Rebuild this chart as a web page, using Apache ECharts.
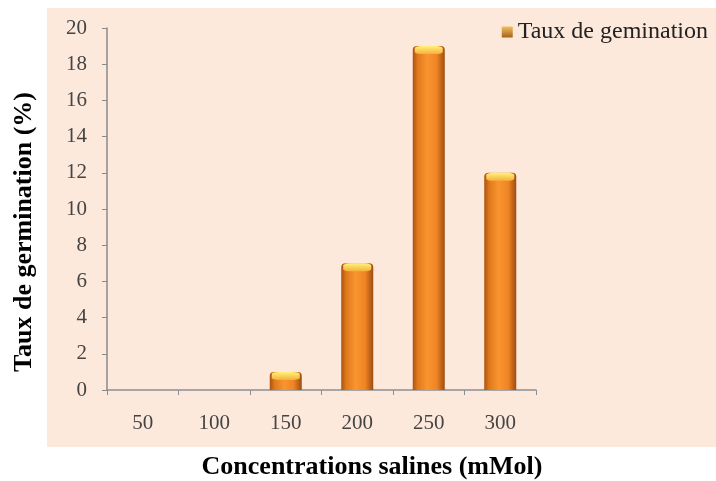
<!DOCTYPE html>
<html><head><meta charset="utf-8">
<script src="https://cdn.jsdelivr.net/npm/echarts@6/dist/echarts.min.js"></script>
<style>html,body{margin:0;padding:0;background:#fff}#c{width:716px;height:481px}</style>
</head><body><div id="c"></div>
<script>
const categories = ['50','100','150','200','250','300'];
const tauxGermination = [0, 0, 1, 7, 19, 12];
const seriesName = 'Taux de gemination';
const xTitle = 'Concentrations salines (mMol)';
const yTitle = 'Taux de germination (%)';

const chart = echarts.init(document.getElementById('c'), null, {renderer:'canvas'});
const serif = '"Liberation Serif", "DejaVu Serif", serif';
const barGrad = new echarts.graphic.LinearGradient(0,0,1,0,[
  {offset:0,color:'#a9520f'},
  {offset:0.15,color:'#e0781c'},
  {offset:0.45,color:'#f99530'},
  {offset:0.75,color:'#ef8424'},
  {offset:1,color:'#9e4c10'}
]);
chart.setOption({
  animation:false,
  backgroundColor:'#ffffff',
  graphic:[
    {type:'rect',z:-10,shape:{x:47,y:8,width:669,height:439},style:{fill:'#fde9dc'},silent:true},
    {type:'text',x:372,y:467,style:{text:xTitle,font:'bold 26px '+serif,fill:'#000',textAlign:'center',textVerticalAlign:'middle'}},
    {type:'text',x:24,y:232,rotation:Math.PI/2,style:{text:yTitle,font:'bold 26px '+serif,fill:'#000',textAlign:'center',textVerticalAlign:'middle'}}
  ],
  legend:{
    right:3, top:15, itemWidth:11, itemHeight:11, icon:'rect', itemGap:6,
    textStyle:{fontFamily:serif,fontSize:24,color:'#222'},
    data:[{name:seriesName,itemStyle:{color:new echarts.graphic.LinearGradient(0,0,0,1,[{offset:0,color:'#f0c060'},{offset:1,color:'#a8601a'}])}}]
  },
  grid:{left:107,right:180,top:28,bottom:91,containLabel:false},
  xAxis:{
    type:'category', data:categories,
    axisLine:{lineStyle:{color:'#8a8f94',width:1.5}},
    axisTick:{show:true,length:5,lineStyle:{color:'#8a8f94'}},
    axisLabel:{fontFamily:serif,fontSize:21,color:'#444',margin:23}
  },
  yAxis:{
    type:'value', min:0, max:20, interval:2,
    axisLine:{show:true,lineStyle:{color:'#8a8a8a',width:1.5}},
    axisTick:{show:true,length:5,lineStyle:{color:'#8a8a8a'}},
    splitLine:{show:false},
    axisLabel:{fontFamily:serif,fontSize:21,color:'#444',margin:20}
  },
  series:[
    {name:seriesName,type:'bar',data:tauxGermination,barWidth:32,barGap:'-100%',
     itemStyle:{color:barGrad,borderRadius:[4,4,0,0]}},
    {name:'cap',type:'pictorialBar',data:tauxGermination.map(v=>v>0?v:null),
     symbol:'roundRect',symbolSize:[28,8],symbolPosition:'end',symbolOffset:[0,0],
     barWidth:32,barGap:'-100%',z:5,
     itemStyle:{color:new echarts.graphic.LinearGradient(0,0,0,1,[{offset:0,color:'#fff27a'},{offset:1,color:'#f5b03a'}])}}
  ]
});
</script></body></html>
